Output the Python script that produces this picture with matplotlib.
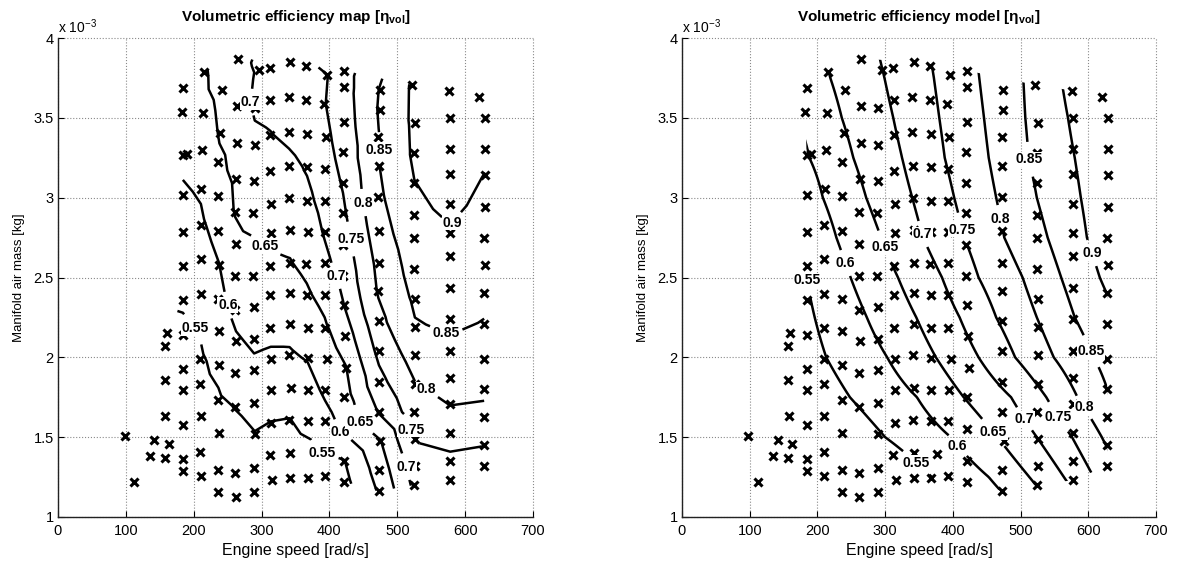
import numpy as np
from collections import defaultdict
import matplotlib
matplotlib.use("Agg")
import matplotlib.pyplot as plt
import matplotlib.tri as mtri
from matplotlib.path import Path
from matplotlib.patches import PathPatch

plt.rcParams['font.family'] = ['Liberation Sans', 'DejaVu Sans']
plt.rcParams['mathtext.fontset'] = 'custom'
plt.rcParams['mathtext.rm'] = 'Liberation Sans'
plt.rcParams['mathtext.bf'] = 'Liberation Sans:bold'
plt.rcParams['mathtext.it'] = 'Liberation Sans:italic'

# ---------------- data: measured operating points ----------------
# engine speed [rad/s], manifold air mass [x1e-3 kg], measured volumetric efficiency
speed = [98, 112, 135, 142, 157, 158, 157, 157, 160, 163,
         184, 184, 184, 184, 184, 184, 184, 184, 184, 184, 184, 182, 184, 190,
         210, 209, 210, 209, 209, 210, 210, 210, 210, 211, 212, 214, 215,
         236, 236, 237, 236, 237, 237, 236, 237, 236, 236, 236, 239, 241,
         262, 261, 261, 261, 263, 261, 261, 262, 261, 263, 264, 264, 265,
         289, 289, 290, 289, 289, 289, 289, 288, 288, 289, 290, 290, 296,
         312, 313, 313, 313, 314, 314, 313, 313, 313, 314, 314, 314, 312, 316,
         342, 340, 340, 341, 341, 342, 342, 342, 342, 341, 343, 341, 342, 342,
         366, 366, 367, 367, 367, 368, 366, 367, 368, 368, 368, 368, 376, 368,
         396, 392, 395, 393, 393, 393, 393, 393, 393, 397, 394, 393, 393,
         421, 421, 421, 420, 420, 420, 420, 420, 421, 423, 424, 421, 421, 421, 421,
         474, 474, 472, 473, 472, 473, 473, 472, 473, 473, 473, 473, 475, 473, 473,
         522, 526, 525, 525, 525, 525, 525, 526, 526, 526, 526, 525, 526, 526, 525,
         576, 578, 578, 578, 578, 578, 578, 578, 578, 578, 578, 578, 578, 578, 578,
         620, 629, 629, 629, 629, 628, 629, 628, 628, 628, 628, 628, 628, 628]
mass = [1.51, 1.22, 1.38, 1.485, 1.37, 1.63, 1.86, 2.07, 2.155, 1.455,
        1.29, 1.363, 1.579, 1.797, 1.929, 2.138, 2.358, 2.571, 2.786, 3.016, 3.27, 3.537, 3.686, 3.275,
        1.254, 1.409, 1.633, 1.831, 1.988, 2.185, 2.397, 2.617, 2.83, 3.054, 3.298, 3.529, 3.79,
        1.154, 1.294, 1.529, 1.73, 1.953, 2.162, 2.363, 2.581, 2.789, 3.008, 3.224, 3.406, 3.675,
        1.126, 1.277, 1.689, 1.90, 2.102, 2.298, 2.51, 2.709, 2.912, 3.118, 3.344, 3.575, 3.87,
        1.157, 1.307, 1.519, 1.713, 1.922, 2.115, 2.317, 2.5125, 2.904, 3.104, 3.328, 3.56, 3.80,
        3.81, 3.6125, 3.392, 3.167, 2.96, 2.78, 2.571, 2.39, 2.186, 1.99, 1.795, 1.59, 1.388, 1.229,
        3.852, 3.633, 3.414, 3.20, 2.995, 2.796, 2.592, 2.40, 2.21, 2.012, 1.81, 1.61, 1.40, 1.245,
        3.825, 3.6125, 3.40, 3.193, 2.98, 2.786, 2.585, 2.39, 2.185, 1.996, 1.797, 1.602, 1.394, 1.245,
        3.766, 3.588, 3.381, 3.182, 2.98, 2.786, 2.592, 2.39, 2.185, 1.988, 1.797, 1.60, 1.258,
        3.796, 3.692, 3.474, 3.285, 3.092, 2.904, 2.706, 2.5125, 2.325, 2.133, 1.935, 1.753, 1.55, 1.349, 1.221,
        3.675, 3.55, 3.383, 3.196, 3.004, 2.79, 2.592, 2.414, 2.227, 2.04, 1.847, 1.656, 1.477, 1.292, 1.162,
        3.706, 3.469, 3.279, 3.092, 2.894, 2.745, 2.555, 2.368, 2.19, 2.0125, 1.835, 1.658, 1.4875, 1.317, 1.20,
        3.671, 3.498, 3.307, 3.15, 2.96, 2.78, 2.635, 2.432, 2.242, 2.04, 1.873, 1.706, 1.529, 1.352, 1.231,
        3.633, 3.498, 3.302, 3.14, 2.94, 2.748, 2.581, 2.402, 2.21, 1.992, 1.80, 1.627, 1.45, 1.321]
eta_map = [0.50, 0.50, 0.50, 0.505, 0.505, 0.515, 0.525, 0.535, 0.54, 0.51,
           0.50, 0.502, 0.51, 0.52, 0.53, 0.541, 0.555, 0.568, 0.58, 0.594, 0.61, 0.615, 0.62, 0.61,
           0.51, 0.52, 0.53, 0.54, 0.545, 0.553, 0.566, 0.579, 0.593, 0.605, 0.62, 0.63, 0.645,
           0.51, 0.52, 0.535, 0.545, 0.559, 0.572, 0.585, 0.599, 0.613, 0.628, 0.643, 0.654, 0.665,
           0.52, 0.53, 0.551, 0.573, 0.595, 0.611, 0.626, 0.64, 0.652, 0.657, 0.662, 0.686, 0.69,
           0.525, 0.535, 0.548, 0.569, 0.591, 0.608, 0.623, 0.638, 0.664, 0.677, 0.69, 0.705, 0.705,
           0.714, 0.715, 0.698, 0.683, 0.67, 0.658, 0.643, 0.628, 0.611, 0.593, 0.572, 0.549, 0.535, 0.525,
           0.726, 0.726, 0.711, 0.689, 0.676, 0.662, 0.648, 0.631, 0.614, 0.595, 0.572, 0.549, 0.535, 0.525,
           0.736, 0.737, 0.723, 0.704, 0.689, 0.675, 0.66, 0.644, 0.622, 0.603, 0.581, 0.56, 0.542, 0.522,
           0.748, 0.747, 0.741, 0.728, 0.716, 0.704, 0.689, 0.665, 0.643, 0.626, 0.609, 0.583, 0.527,
           0.779, 0.779, 0.775, 0.766, 0.754, 0.742, 0.727, 0.713, 0.699, 0.674, 0.648, 0.629, 0.607, 0.547, 0.535,
           0.852, 0.855, 0.848, 0.849, 0.841, 0.829, 0.814, 0.804, 0.787, 0.763, 0.735, 0.703, 0.648, 0.62, 0.605,
           0.905, 0.91, 0.907, 0.899, 0.889, 0.88, 0.869, 0.858, 0.846, 0.822, 0.798, 0.775, 0.753, 0.725, 0.71,
           0.925, 0.928, 0.928, 0.922, 0.91, 0.896, 0.886, 0.872, 0.859, 0.841, 0.821, 0.801, 0.771, 0.74, 0.73,
           0.915, 0.912, 0.908, 0.899, 0.889, 0.879, 0.87, 0.86, 0.848, 0.829, 0.81, 0.786, 0.751, 0.735]

levels = [0.55, 0.6, 0.65, 0.7, 0.75, 0.8, 0.85, 0.9]

# ---------------- data: model contour crossings ----------------
# engine speed [rad/s] where each model iso-efficiency line crosses the given air-mass rows
model_rows = [1.0, 1.25, 1.5, 1.75, 2.0, 2.25, 2.5, 2.75, 3.0, 3.25, 3.5, 3.75, 4.0]
model_x_055 = [440, 369, 300, 248, 213, 196, 184, 175, 163, 148, 130, 112, 94]
model_x_060 = [510, 453, 397, 347, 303, 273, 249, 228, 208, 188, 168, 148, 128]
model_x_065 = [560, 513, 466, 416, 375, 346, 319, 294, 272, 253, 236, 219, 202]
model_x_070 = [604, 564, 524, 486, 438, 410, 384, 356, 340, 325, 312, 299, 285]
model_x_075 = [645, 608, 576, 538, 492, 464, 438, 417, 402, 388, 380, 372, 363]
model_x_080 = [690, 657, 620, 584, 549, 524, 503, 476, 464, 453, 446, 439, 432]
model_x_085 = [720, 685, 658, 632, 608, 580, 560, 540, 524, 512, 507, 504, 502]
model_x_090 = [790, 760, 730, 700, 672, 645, 617, 598, 589, 580, 570, 560, 553]

# contour label anchor points (speed, mass) per level
map_labels = {0.55: [(201, 2.18), (387, 1.38)], 0.6: [(244, 2.32), (411, 1.48)],
              0.65: [(298, 2.66), (437, 1.56)], 0.7: [(276, 3.60), (409, 2.51), (500, 1.30)],
              0.75: [(430, 2.74), (515, 1.54)], 0.8: [(451, 2.97), (540, 1.78)],
              0.85: [(472, 3.30), (569, 2.12)], 0.9: [(579, 2.85)]}
model_labels = {0.55: [(182, 2.48), (344, 1.33)], 0.6: [(241, 2.59), (408, 1.45)],
                0.65: [(299, 2.69), (460, 1.53)], 0.7: [(354, 2.77), (504, 1.61)],
                0.75: [(415, 2.80), (553, 1.62)], 0.8: [(471, 2.87), (595, 1.69)],
                0.85: [(513, 3.24), (605, 2.04)], 0.9: [(603, 2.65)]}

# ---------------- build model grid from crossings ----------------
lv = np.array(levels)
xg = np.arange(40.0, 720.0, 2.0)
cross = np.array([model_x_055, model_x_060, model_x_065, model_x_070,
                  model_x_075, model_x_080, model_x_085, model_x_090], float).T
Z = np.empty((len(model_rows), len(xg)))
for i, xs in enumerate(cross):
    z = np.interp(xg, xs, lv)
    lo = xg < xs[0]
    z[lo] = lv[0] - (xs[0] - xg[lo]) * (lv[1] - lv[0]) / (xs[1] - xs[0])
    hi = xg > xs[-1]
    z[hi] = lv[-1] + (xg[hi] - xs[-1]) * (lv[-1] - lv[-2]) / (xs[-1] - xs[-2])
    Z[i] = z

# ---------------- triangulation of the measured points ----------------
sx = np.array(speed, float)
sy = np.array(mass, float)
tri_scaled = mtri.Triangulation(sx / 236.0, sy)          # screen-proportional space
flat = np.asarray(mtri.TriAnalyzer(tri_scaled).get_flat_tri_mask(
    min_circle_ratio=0.06, rescale=False))
tri = mtri.Triangulation(sx, sy, triangles=tri_scaled.triangles, mask=flat)

# outer boundary of the kept triangles -> clip region for the model lines
trs = tri_scaled.triangles
cnt = defaultdict(int)
ori = {}
for t in range(len(trs)):
    if flat[t]:
        continue
    for j in range(3):
        a, b = int(trs[t, j]), int(trs[t, (j + 1) % 3])
        key = (min(a, b), max(a, b))
        cnt[key] += 1
        ori[key] = (a, b)
out = defaultdict(list)
for key, c in cnt.items():
    if c == 1:
        a, b = ori[key]
        out[a].append(b)
used = set()
loops = []
for a0 in list(out):
    for b0 in out[a0]:
        if (a0, b0) in used:
            continue
        loop = [a0]
        used.add((a0, b0))
        cur = b0
        while cur != a0:
            loop.append(cur)
            cand = [b for b in out[cur] if (cur, b) not in used]
            if not cand:
                break
            used.add((cur, cand[0]))
            cur = cand[0]
        loops.append(loop)
best = max(loops, key=len)
bverts = [(sx[k], sy[k]) for k in best] + [(sx[best[0]], sy[best[0]])]
bcodes = [Path.MOVETO] + [Path.LINETO] * (len(best) - 1) + [Path.CLOSEPOLY]
domain = Path(bverts, bcodes)


def label_set(cs, pos):
    old = plt.rcParams['font.weight']
    plt.rcParams['font.weight'] = 'bold'
    cs.clabel(manual=pos, inline=True, inline_spacing=4, fmt='%g', fontsize=10)
    plt.rcParams['font.weight'] = old
    for t in cs.labelTexts:
        t.set_rotation(0)
        t.set_fontweight('bold')
        t.set_zorder(5)
        t.set_bbox(dict(boxstyle='square,pad=0.05', fc='white', ec='none'))


def style(ax, title):
    ax.set_xlim(0, 700)
    ax.set_ylim(1, 4)
    ax.set_xticks(range(0, 701, 100))
    ax.set_yticks([1, 1.5, 2, 2.5, 3, 3.5, 4])
    ax.set_yticklabels(['1', '1.5', '2', '2.5', '3', '3.5', '4'])
    ax.grid(True, ls=':', color='#8a8a8a', lw=0.8)
    for l in ax.get_xgridlines() + ax.get_ygridlines():
        l.set_clip_on(False)
    for s in ['top', 'right']:
        ax.spines[s].set_visible(False)
    for s in ['left', 'bottom']:
        ax.spines[s].set_linewidth(1.0)
        ax.spines[s].set_color('#222222')
    ax.tick_params(direction='in', length=4, width=0.8, labelsize=10.5)
    ax.tick_params(axis='x', pad=5)
    ax.tick_params(axis='y', pad=3)
    ax.set_xlabel('Engine speed [rad/s]', fontsize=11.5, labelpad=4)
    ax.set_ylabel('Manifold air mass [kg]', fontsize=9.5, labelpad=6)
    ax.set_title(title, fontsize=11, fontweight='bold', pad=12)
    ax.text(0.0, 1.004, r'x 10$^{-3}$', transform=ax.transAxes, fontsize=10,
            ha='left', va='bottom')


fig = plt.figure(figsize=(11.79, 5.63), dpi=100)
ax1 = fig.add_axes([58 / 1179, 46 / 563, 475 / 1179, 479 / 563])
ax2 = fig.add_axes([682 / 1179, 46 / 563, 474 / 1179, 479 / 563])
style(ax1, 'Volumetric efficiency map [η$_{\\mathbf{vol}}$]')
style(ax2, 'Volumetric efficiency model [η$_{\\mathbf{vol}}$]')

for lev in levels:
    # left: measured map (linear interpolation over the measured points)
    c1 = ax1.tricontour(tri, eta_map, levels=[lev], colors='k',
                        linewidths=1.8, zorder=2)
    label_set(c1, map_labels[lev])
    # right: model, shown over the measured domain only
    c2 = ax2.contour(xg, model_rows, Z, levels=[lev], colors='k',
                     linewidths=1.8, zorder=2)
    c2.set_clip_path(PathPatch(domain, transform=ax2.transData, fc='none', ec='none'))
    label_set(c2, model_labels[lev])

for ax in (ax1, ax2):
    ax.plot(speed, mass, ls='none', marker='x', color='k', ms=6, mew=2.2, zorder=3)
    ax.set_xlim(0, 700)
    ax.set_ylim(1, 4)

fig.savefig('out.png', dpi=100)
